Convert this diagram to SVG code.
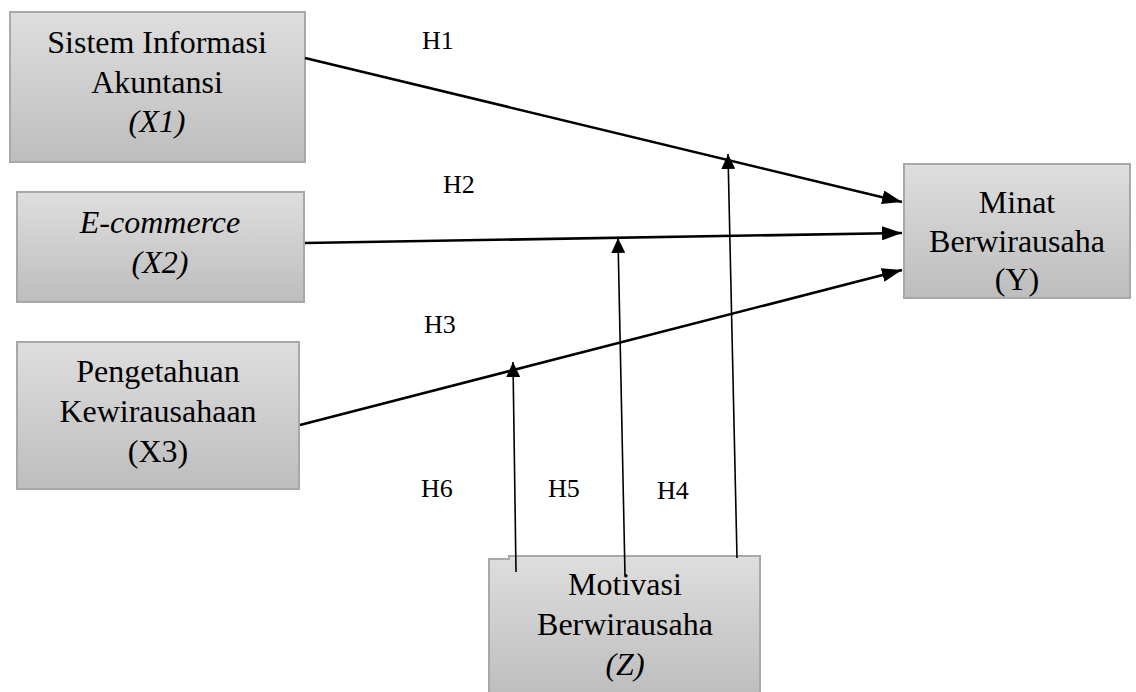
<svg xmlns="http://www.w3.org/2000/svg" width="1136" height="692" viewBox="0 0 1136 692">
<defs>
<linearGradient id="g" x1="0" y1="0" x2="0" y2="1">
<stop offset="0" stop-color="#dedede"/>
<stop offset="1" stop-color="#bdbdbd"/>
</linearGradient>
<marker id="big" viewBox="0 0 20 14" refX="20" refY="7" markerWidth="20" markerHeight="14" markerUnits="userSpaceOnUse" orient="auto">
<path d="M0,0 L20,7 L0,14 Z" fill="#000"/>
</marker>
<marker id="small" viewBox="0 0 15 14" refX="15" refY="7" markerWidth="15" markerHeight="14" markerUnits="userSpaceOnUse" orient="auto">
<path d="M0,0 L15,7 L0,14 Z" fill="#000"/>
</marker>
</defs>
<style>
.box{fill:url(#g);stroke:#a8a8a8;stroke-width:2}
.t{font-family:"Liberation Serif","Times New Roman",serif;font-size:32px;fill:#000;text-anchor:middle}
.i{font-style:italic}
.h{font-family:"Liberation Serif","Times New Roman",serif;font-size:26px;fill:#000}
.main{stroke:#000;stroke-width:2.6;fill:none}
.mod{stroke:#000;stroke-width:1.6;fill:none}
</style>
<rect width="1136" height="692" fill="#fff"/>
<g id="x1">
<rect class="box" x="10" y="12" width="295" height="150"/>
<text class="t" x="157" y="53">Sistem Informasi</text>
<text class="t" x="157" y="93">Akuntansi</text>
<text class="t i" x="157" y="132">(X1)</text>
</g>
<g id="x2">
<rect class="box" x="17" y="192" width="287" height="110"/>
<text class="t i" x="160" y="233">E-commerce</text>
<text class="t i" x="160" y="273">(X2)</text>
</g>
<g id="x3">
<rect class="box" x="17" y="342" width="282" height="147"/>
<text class="t" x="158" y="382">Pengetahuan</text>
<text class="t" x="158" y="422">Kewirausahaan</text>
<text class="t" x="158" y="462">(X3)</text>
</g>
<g id="y">
<rect class="box" x="904" y="164" width="226" height="134"/>
<text class="t" x="1017" y="213">Minat</text>
<text class="t" x="1017" y="252">Berwirausaha</text>
<text class="t" x="1017" y="290">(Y)</text>
</g>
<g id="z">
<path class="box" d="M489,559 H509 V556 H760 V696 H489 Z"/>
<text class="t" x="625" y="595">Motivasi</text>
<text class="t" x="625" y="635">Berwirausaha</text>
<text class="t i" x="625" y="675">(Z)</text>
</g>
<g id="connectors">
<line class="main" x1="305" y1="58" x2="902" y2="202" marker-end="url(#big)"/>
<line class="main" x1="305" y1="243" x2="902" y2="233" marker-end="url(#big)"/>
<line class="main" x1="300" y1="425" x2="902" y2="270" marker-end="url(#big)"/>
<line class="mod" x1="737" y1="558" x2="728" y2="154" marker-end="url(#small)"/>
<line class="mod" x1="625" y1="575" x2="618" y2="238" marker-end="url(#small)"/>
<line class="mod" x1="516" y1="572" x2="513" y2="362" marker-end="url(#small)"/>
</g>
<g id="labels">
<text class="h" x="422" y="49">H1</text>
<text class="h" x="443" y="193">H2</text>
<text class="h" x="424" y="333">H3</text>
<text class="h" x="421" y="497">H6</text>
<text class="h" x="548" y="497">H5</text>
<text class="h" x="657" y="499">H4</text>
</g>
</svg>
